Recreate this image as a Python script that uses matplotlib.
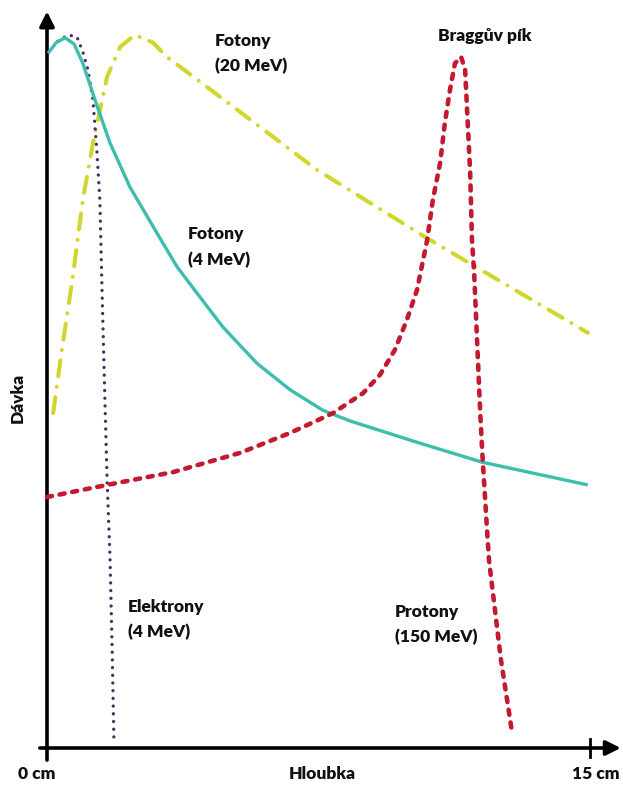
import matplotlib
matplotlib.use("Agg")
import matplotlib.pyplot as plt

# hloubka v cm, davka v relativnich jednotkach (0-100)
foton4_x = [0.03, 0.25, 0.50, 0.75, 0.99, 1.33, 1.74, 2.29, 3.04, 3.59, 4.14, 4.86, 5.80, 6.71, 7.62, 8.37,
            10.22, 12.02, 14.94]
foton4_y = [97.7, 99.2, 99.9, 99.0, 96.3, 91.1, 85.1, 78.9, 72.4, 67.7, 64.0, 59.2, 54.1, 50.4, 47.5, 46.0,
            43.0, 40.2, 37.0]

foton20_x = [0.17, 0.41, 0.69, 0.99, 1.27, 1.66, 2.02, 2.43, 2.93, 3.31, 4.23, 5.14, 7.46, 10.50, 11.77, 14.94]
foton20_y = [47.1, 56.0, 65.4, 77.1, 85.1, 94.4, 98.6, 100.3, 99.2, 97.2, 93.7, 90.2, 81.3, 71.7, 67.9, 58.4]

elektron_x = [0.30, 0.58, 0.83, 0.99, 1.13, 1.27, 1.38, 1.46, 1.52, 1.60, 1.66, 1.74, 1.80, 1.85]
elektron_y = [99.4, 100.3, 100.0, 97.9, 95.4, 91.1, 83.8, 77.1, 64.4, 48.9, 37.7, 26.9, 13.8, 0.8]

proton_x = [0.0, 1.66, 3.48, 5.33, 6.71, 7.90, 8.73, 9.20, 9.61, 9.94, 10.22, 10.50, 10.66, 10.86, 10.99, 11.13,
            11.27, 11.44, 11.55, 11.60, 11.69, 11.74, 11.80, 11.88, 11.96, 12.02, 12.15, 12.21, 12.54, 12.85]
proton_y = [35.3, 37.0, 38.8, 41.5, 44.3, 47.1, 49.9, 52.5, 56.0, 60.2, 64.4, 71.4, 77.1, 82.3, 87.9, 92.5,
            96.3, 97.2, 95.4, 90.2, 80.9, 71.4, 66.8, 57.4, 48.0, 41.9, 31.1, 26.4, 12.4, 2.1]

W, H = 623, 785
fig = plt.figure(figsize=(W/100, H/100), dpi=100)
# osa: 0 cm na px 47, 15 cm na px 590; davka 0 na py 748, 100 na py 37
ax = fig.add_axes([47/W, (H-748)/H, 543/W, 711/H])
ax.set_xlim(0, 15)
ax.set_ylim(0, 100)
ax.axis("off")

teal = "#3dbdac"
yellow = "#d2d62c"
red = "#c41a30"
purple = "#4e2d5e"

ax.plot(foton20_x, foton20_y, color=yellow, lw=2.9, dashes=(4, 2.6, 0.01, 2.6),
        dash_capstyle="round", clip_on=False, zorder=2)
ax.plot(elektron_x, elektron_y, color=purple, lw=2.4, dashes=(0.01, 2.3),
        dash_capstyle="round", clip_on=False, zorder=3)
ax.plot(foton4_x, foton4_y, color=teal, lw=2.4, solid_capstyle="butt", solid_joinstyle="round",
        clip_on=False, zorder=4)
ax.plot(proton_x, proton_y, color=red, lw=3.3, dashes=(1.1, 1.7),
        dash_capstyle="round", dash_joinstyle="round", clip_on=False, zorder=5)

# osy se sipkami
ax.annotate("", xy=(15.85, 0), xytext=(-0.2, 0), annotation_clip=False,
            arrowprops=dict(arrowstyle="-|>", lw=2.6, color="black", mutation_scale=22,
                            shrinkA=0, shrinkB=0))
ax.annotate("", xy=(0, 103.6), xytext=(0, -1.7), annotation_clip=False,
            arrowprops=dict(arrowstyle="-|>", lw=2.6, color="black", mutation_scale=22,
                            shrinkA=0, shrinkB=0))
ax.plot([15, 15], [-1.2, 1.2], color="black", lw=2, clip_on=False)

fnt = dict(family=["Lato", "DejaVu Sans"], weight="heavy", fontsize=12.5, color="#111111")

ax.text(4.64, 100.6, "Fotony\n(20 MeV)", va="top", ha="left", linespacing=1.7, **fnt)
ax.text(3.90, 73.4, "Fotony\n(4 MeV)", va="top", ha="left", linespacing=1.7, **fnt)
ax.text(10.80, 101.2, "Braggův pík", va="top", ha="left", **fnt)
ax.text(2.24, 21.0, "Elektrony\n(4 MeV)", va="top", ha="left", linespacing=1.7, **fnt)
ax.text(9.61, 20.3, "Protony\n(150 MeV)", va="top", ha="left", linespacing=1.7, **fnt)

ax.text(-0.28, -3.6, "0 cm", va="center", ha="center", **fnt)
ax.text(7.6, -3.6, "Hloubka", va="center", ha="center", **fnt)
ax.text(15.15, -3.6, "15 cm", va="center", ha="center", **fnt)
ax.text(-0.8, 49.2, "Dávka", va="center", ha="center", rotation=90, **fnt)

fig.savefig("out.png", dpi=100)
